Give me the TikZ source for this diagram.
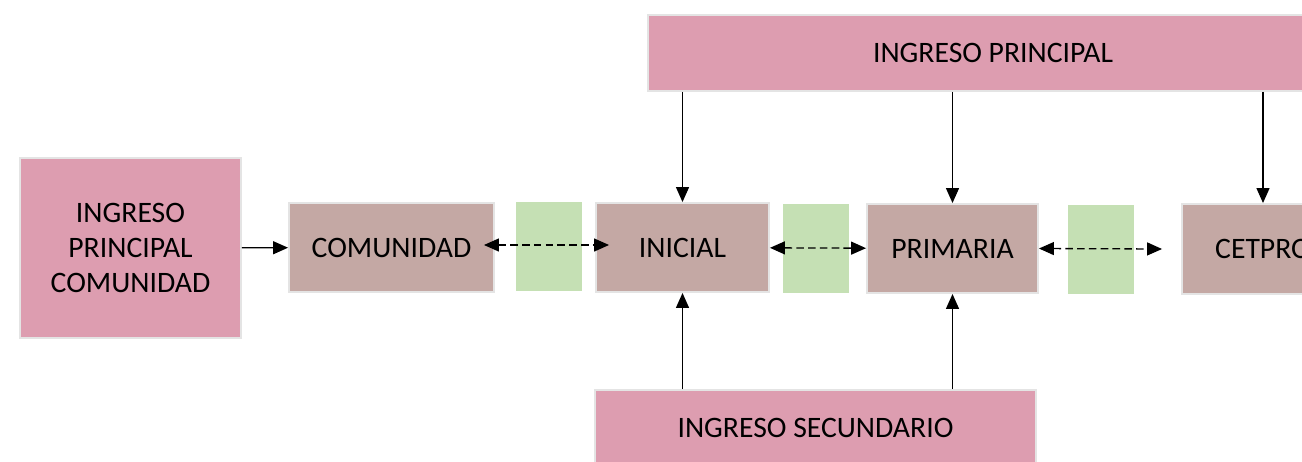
\documentclass[tikz,border=0pt]{standalone}
\usepackage{fontspec}
\setmainfont{Carlito}
\usetikzlibrary{arrows.meta, positioning}

\definecolor{rosa}{HTML}{DD9DB0}
\definecolor{marron}{HTML}{C4A8A4}
\definecolor{verde}{HTML}{C5E0B4}
\definecolor{borde}{HTML}{E4E4E4}

\begin{document}
\begin{tikzpicture}[x=0.02cm, y=-0.02cm, >={Triangle[length=0.3cm, width=0.26cm]},
					caja/.style={rectangle, draw=borde, line width=1.1pt, inner sep=0pt, align=center, font=\fontsize{16.9}{20}\selectfont},
					ingreso/.style={caja, fill=rosa},
					nivel/.style={caja, fill=marron, minimum height=1.78cm},
					enlace/.style={rectangle, fill=verde, inner sep=0pt, minimum width=1.32cm, minimum height=1.78cm},
					flecha/.style={->, line width=0.75pt},
					doble/.style={<->, line width=0.75pt, dash pattern=on 4.3pt off 2.4pt}
				]
					\useasboundingbox (0,0) rectangle (1302,461);
					\clip (0,0) rectangle (1302,461);
					
					% Nodes
					\node[ingreso, minimum width=4.42cm, minimum height=3.6cm] (ipc) at (130.5,248) {INGRESO\\PRINCIPAL\\COMUNIDAD};
					\node[nivel, minimum width=4.1cm] (comunidad) at (391.5,247.5) {COMUNIDAD};
					\node[nivel, minimum width=3.46cm] (inicial) at (682.5,247.5) {INICIAL};
					\node[nivel, minimum width=3.42cm] (primaria) at (952.5,248.5) {PRIMARIA};
					\node[nivel, minimum width=3.24cm, minimum height=1.8cm] (cetpro) at (1263,249) {CETPRO};
					\node[ingreso, minimum width=13.8cm, minimum height=1.52cm] (principal) at (993,53) {INGRESO PRINCIPAL};
					\node[ingreso, minimum width=8.82cm, minimum height=1.52cm] (secundario) at (815.5,428) {INGRESO SECUNDARIO};
					
					% Green links
					\node[enlace] (enlace1) at (549,246.5) {};
					\node[enlace] (enlace2) at (816,248.5) {};
					\node[enlace] (enlace3) at (1101,249.5) {};
					
					% Arrows
					\draw[flecha] (ipc) -- (comunidad);
					\draw[doble] ([xshift=-0.22cm, yshift=0.05cm]comunidad.east) -- ([xshift=0.28cm, yshift=0.05cm]inicial.west);
					\draw[doble] (inicial) -- (primaria);
					\draw[doble] (primaria.east) -- ([xshift=-0.38cm]cetpro.west);
					\draw[flecha] (principal.south -| inicial.north) -- (inicial.north);
					\draw[flecha] (principal.south -| primaria.north) -- (primaria.north);
					\draw[flecha] (principal.south -| cetpro.north) -- (cetpro.north);
					\draw[flecha] (secundario.north -| inicial.south) -- (inicial.south);
					\draw[flecha] (secundario.north -| primaria.south) -- (primaria.south);
				\end{tikzpicture}
\end{document}
